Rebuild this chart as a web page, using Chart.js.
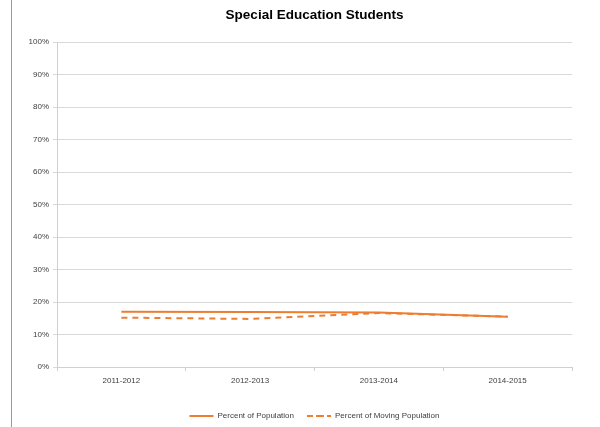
<!DOCTYPE html>
<html>
<head>
<meta charset="utf-8">
<script src="https://cdn.jsdelivr.net/npm/chart.js@4/dist/chart.umd.min.js"></script>
<style>
html,body{margin:0;padding:0;background:#fff;}
#wrap{position:relative;width:600px;height:427px;}
#edge{position:absolute;left:11px;top:0;width:1px;height:427px;background:#9a9a9a;}
canvas{position:absolute;left:0;top:0;}
</style>
</head>
<body>
<div id="wrap"><div id="edge"></div><canvas id="c" width="600" height="427"></canvas></div>
<script>
const categories = ['2011-2012', '2012-2013', '2013-2014', '2014-2015'];
const percentOfPopulation = [17.0, 16.9, 16.8, 15.5];
const percentOfMovingPopulation = [15.2, 14.8, 16.6, 15.5];
const yTicks = [0, 10, 20, 30, 40, 50, 60, 70, 80, 90, 100];

const orange = '#ED7D31';
const font = "'Liberation Sans', Arial, sans-serif";

new Chart(document.getElementById('c'), {
  type: 'line',
  data: {
    labels: categories,
    datasets: [
      { label: 'Percent of Population', data: percentOfPopulation, borderColor: orange, backgroundColor: orange, borderWidth: 2, pointRadius: 0, tension: 0 },
      { label: 'Percent of Moving Population', data: percentOfMovingPopulation, borderColor: orange, backgroundColor: orange, borderWidth: 2, borderDash: [6, 5], pointRadius: 0, tension: 0 }
    ]
  },
  options: {
    responsive: false,
    animation: false,
    layout: { padding: { left: 0, right: 28, top: 0, bottom: -3 } },
    plugins: {
      title: { display: true, fullSize: false, text: 'Special Education Students', color: '#000', font: { family: font, size: 13.5, weight: 'bold' }, padding: { top: 7, bottom: 19 } },
      legend: {
        position: 'bottom',
        fullSize: false,
        labels: { usePointStyle: false, boxWidth: 24, boxHeight: 0, color: '#404040', font: { family: font, size: 8 }, padding: 13 }
      },
      tooltip: { enabled: false }
    },
    scales: {
      x: {
        offset: true,
        grid: { display: true, drawOnChartArea: false, drawTicks: true, tickLength: 4, offset: true, color: '#d0d0d0' },
        border: { color: '#d0d0d0' },
        ticks: { color: '#404040', font: { family: font, size: 8 }, padding: 5, maxRotation: 0 },
        afterFit: s => { s.height = 32; }
      },
      y: {
        min: 0, max: 100,
        afterBuildTicks: s => { s.ticks = yTicks.map(v => ({ value: v })); },
        grid: { color: '#d9d9d9', tickLength: 4 },
        border: { color: '#d0d0d0' },
        ticks: { color: '#404040', font: { family: font, size: 8 }, padding: 4, callback: v => v + '%' },
        afterFit: s => { s.width = 57; }
      }
    }
  }
});
</script>
</body>
</html>
